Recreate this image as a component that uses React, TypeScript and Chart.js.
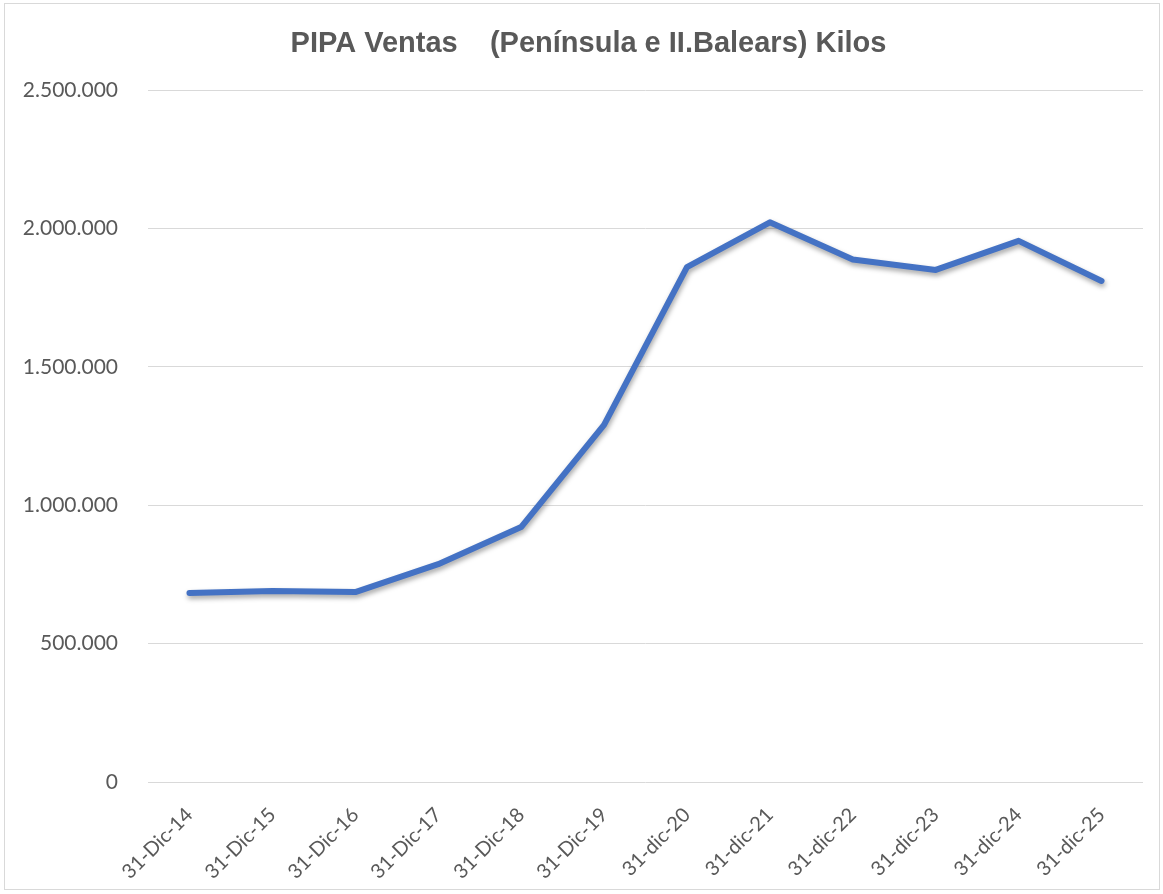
import React, { useEffect, useRef } from "react";
import { Chart, registerables } from "chart.js";

Chart.register(...registerables);

const categories = [
  "31-Dic-14", "31-Dic-15", "31-Dic-16", "31-Dic-17", "31-Dic-18", "31-Dic-19",
  "31-dic-20", "31-dic-21", "31-dic-22", "31-dic-23", "31-dic-24", "31-dic-25",
];
const ventasKilos = [
  683000, 690000, 686000, 787000, 921000, 1290000,
  1860000, 2022000, 1888000, 1850000, 1955000, 1810000,
];
const yTicks = [0, 500000, 1000000, 1500000, 2000000, 2500000];
const titleText = "PIPA Ventas    (Península e II.Balears) Kilos";

function fmt(v: number): string {
  return String(Math.round(v)).replace(/\B(?=(\d{3})+(?!\d))/g, ".");
}

const shadowPlugin = {
  id: "lineShadow",
  beforeDatasetDraw(chart: any) {
    const ctx = chart.ctx;
    ctx.save();
    ctx.shadowColor = "rgba(0,0,0,0.35)";
    ctx.shadowBlur = 5;
    ctx.shadowOffsetX = 1;
    ctx.shadowOffsetY = 3;
  },
  afterDatasetDraw(chart: any) {
    chart.ctx.restore();
  },
};

const titlePlugin = {
  id: "offsetTitle",
  afterDraw(chart: any) {
    const ctx = chart.ctx;
    ctx.save();
    ctx.font = "bold 29px 'Liberation Sans', Arial, sans-serif";
    ctx.fillStyle = "#595959";
    ctx.textAlign = "center";
    ctx.textBaseline = "middle";
    ctx.fillText(titleText, 583.5, 39.5);
    ctx.restore();
  },
};

export default function App() {
  const ref = useRef<HTMLCanvasElement | null>(null);
  useEffect(() => {
    if (!ref.current) return;
    const chart = new Chart(ref.current, {
      type: "line",
      data: {
        labels: categories,
        datasets: [
          {
            data: ventasKilos,
            borderColor: "#4472C4",
            backgroundColor: "#4472C4",
            borderWidth: 6,
            pointRadius: 0,
            pointHoverRadius: 0,
            tension: 0,
            borderCapStyle: "round",
            borderJoinStyle: "round",
          },
        ],
      },
      options: {
        animation: false,
        responsive: false,
        maintainAspectRatio: false,
        layout: { padding: { left: 0, right: 16, top: 86, bottom: 0 } },
        plugins: {
          legend: { display: false },
          tooltip: { enabled: false },
          title: { display: false },
        },
        scales: {
          x: {
            offset: true,
            grid: { display: false },
            border: { display: false },
            ticks: {
              color: "#595959",
              font: { family: "Lato, 'Open Sans', sans-serif", size: 20 },
              maxRotation: 45,
              minRotation: 45,
              autoSkip: false,
              padding: 13,
            },
            afterFit(scale: any) {
              scale.height = 107;
            },
          },
          y: {
            min: 0,
            max: 2500000,
            afterBuildTicks(scale: any) {
              scale.ticks = yTicks.map((v) => ({ value: v }));
            },
            grid: { color: "#d9d9d9", lineWidth: 1, drawTicks: false },
            border: { display: false },
            ticks: {
              color: "#595959",
              font: { family: "Lato, 'Open Sans', sans-serif", size: 21 },
              padding: 30,
              callback: (v: any) => fmt(Number(v)),
            },
            afterFit(scale: any) {
              scale.width = 143;
            },
          },
        },
      },
      plugins: [shadowPlugin, titlePlugin],
    });
    return () => chart.destroy();
  }, []);

  return (
    <div
      style={{
        position: "absolute",
        left: 4,
        top: 3,
        width: 1156,
        height: 887,
        border: "1px solid #d9d9d9",
        boxSizing: "border-box",
        background: "#fff",
      }}
    >
      <canvas ref={ref} width={1154} height={885} style={{ display: "block" }} />
    </div>
  );
}
